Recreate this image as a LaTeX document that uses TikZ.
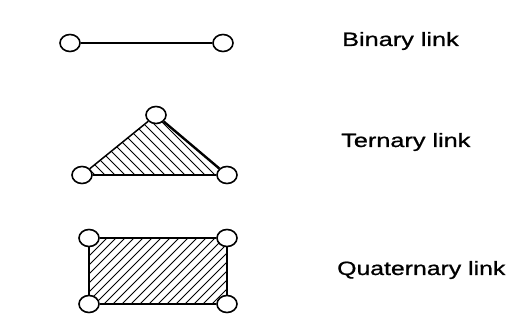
\documentclass[tikz,border=0pt]{standalone}
\usepackage{fontspec}
\setmainfont{Liberation Sans}
\newfontfamily\lblfont[FakeBold=0.8]{Liberation Sans}
\usetikzlibrary{shapes.geometric}
\begin{document}
\begin{tikzpicture}[x=1pt,y=-1pt,
  joint/.style={ellipse,draw,line width=1.6pt,fill=white,minimum width=20pt,minimum height=17pt,inner sep=0pt},
  bar/.style={line width=1.5pt},
  hatchline/.style={line width=1pt},
  lbl/.style={anchor=base west,font=\lblfont\fontsize{19.3}{23}\selectfont,inner sep=0pt}]
\useasboundingbox (0,0) rectangle (509,323);
% coordinates of joints
\coordinate (bA) at (70,43);
\coordinate (bB) at (223,43);
\coordinate (tA) at (156,115);
\coordinate (tB) at (82,175);
\coordinate (tC) at (227,175);
\coordinate (qA) at (89,238);
\coordinate (qB) at (227,238);
\coordinate (qC) at (227,304);
\coordinate (qD) at (89,304);
% hatching of ternary link
\begin{scope}
  \clip (tA) -- (tB) -- (tC) -- cycle;
  \foreach \c in {-110,-100,...,130}
    \draw[hatchline] (\c+90,90) -- (\c+190,190);
\end{scope}
% hatching of quaternary link
\begin{scope}
  \clip (qA) -- (qB) -- (qC) -- (qD) -- cycle;
  \foreach \c in {318,327,...,540}
    \draw[hatchline] (\c-320,320) -- (\c-220,220);
\end{scope}
% joints
\node[joint] (b1) at (bA) {};
\node[joint] (b2) at (bB) {};
\node[joint] (t1) at (tA) {};
\node[joint] (t2) at (tB) {};
\node[joint] (t3) at (tC) {};
\node[joint] (q1) at (qA) {};
\node[joint] (q2) at (qB) {};
\node[joint] (q3) at (qC) {};
\node[joint] (q4) at (qD) {};
% links
\draw[bar] (b1) -- (b2);
\draw[bar] (t1) -- (t2);
\draw[bar] (t2) -- (t3);
\draw[line width=2.4pt] (t1) -- (t3);
\draw[bar] (q1) -- (q2);
\draw[bar] (q2) -- (q3);
\draw[bar] (q3) -- (q4);
\draw[bar] (q4) -- (q1);
% labels
\node[lbl] (l1) at (342,46) {\scalebox{1.31}[1]{Binary link}};
\node[lbl] (l2) at (341,147) {\scalebox{1.31}[1]{Ternary link}};
\node[lbl] (l3) at (337,275) {\scalebox{1.285}[1]{Quaternary link}};
\end{tikzpicture}
\end{document}
